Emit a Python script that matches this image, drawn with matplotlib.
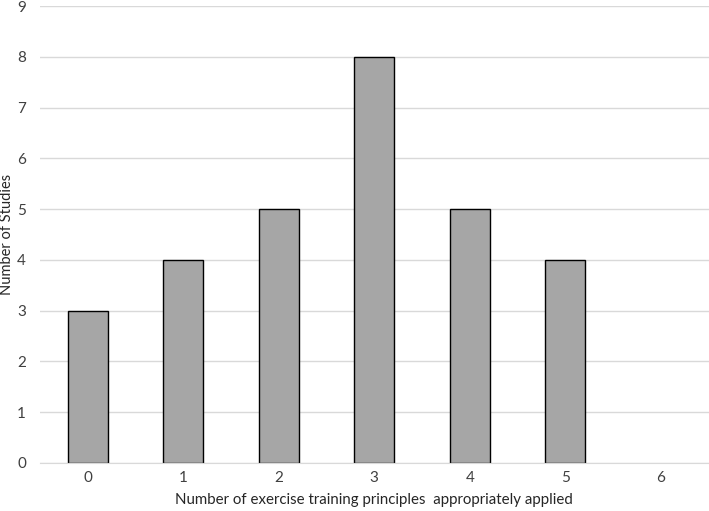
import matplotlib
matplotlib.use("Agg")
import matplotlib.pyplot as plt

# number of principles applied vs count of studies
categories = ["0", "1", "2", "3", "4", "5", "6"]
studies = [3, 4, 5, 8, 5, 4, 0]
y_ticks = list(range(0, 10))

plt.rcParams['font.family'] = ['Lato', 'DejaVu Sans']

fig = plt.figure(figsize=(7.09, 5.11), dpi=100)
ax = fig.add_axes([0.0564, 0.094, 0.943, 0.894])

x = range(len(categories))
edges = ["black" if v > 0 else "none" for v in studies]
ax.bar(x, studies, width=0.42, color="#a6a6a6", edgecolor=edges,
       linewidth=1.0, zorder=3)

ax.set_xlim(-0.5, len(categories) - 0.5)
ax.set_ylim(0, 9)
ax.set_xticks(list(x))
ax.set_xticklabels(categories)
ax.set_yticks(y_ticks)

ax.grid(axis="y", color="#d9d9d9", linewidth=1.0, zorder=0)
for side in ["top", "right", "left"]:
    ax.spines[side].set_visible(False)
ax.spines["bottom"].set_color("#d9d9d9")
ax.spines["bottom"].set_zorder(4)

ax.tick_params(axis="both", length=0, labelsize=11, colors="#404040")
ax.tick_params(axis="x", pad=6)
ax.tick_params(axis="y", pad=10)

# axis titles placed by hand, as in the original
fig.text(0.527, 0.0215,
         "Number of exercise training principles  appropriately applied",
         fontsize=10.8, color="#262626", ha="center", va="center")
fig.text(0.0105, 0.542, "Number of Studies", fontsize=10.5, color="#262626",
         rotation=90, ha="center", va="center")

fig.savefig("out.png", dpi=100)
